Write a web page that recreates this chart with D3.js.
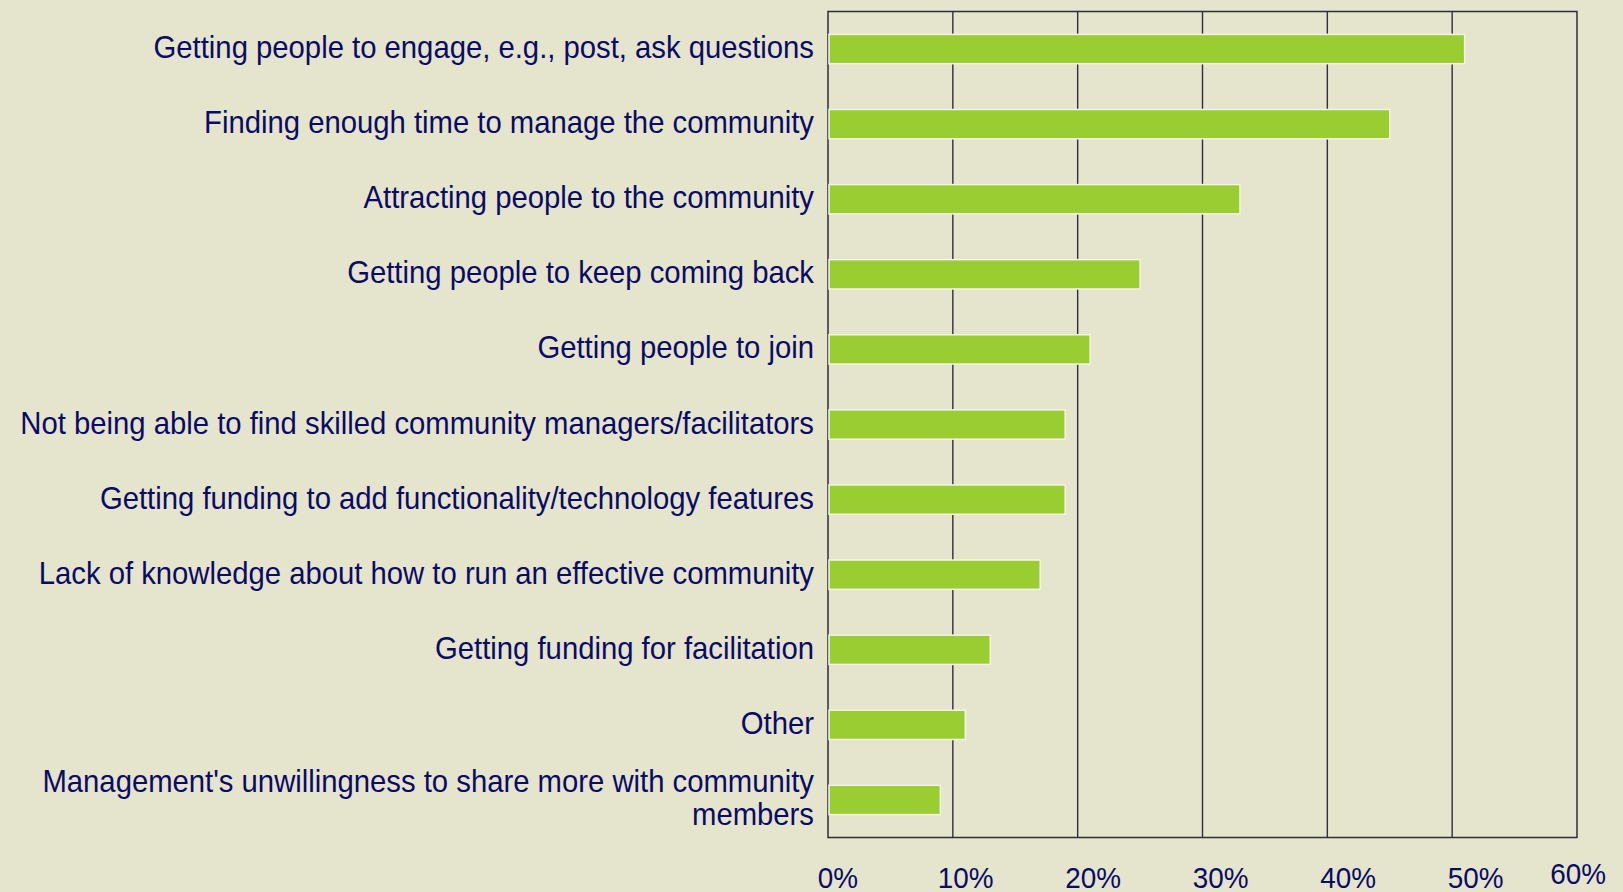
<!DOCTYPE html>
<html>
<head>
<meta charset="utf-8">
<script src="https://cdn.jsdelivr.net/npm/d3@7"></script>
<style>
  html, body { margin: 0; padding: 0; background: #e5e4cc; }
  svg { display: block; }
  text { font-family: "Liberation Sans", Arial, sans-serif; fill: #0b0b66; }
</style>
</head>
<body>
<svg id="chart" width="1623" height="892"></svg>
<script>
// Survey responses: biggest challenges in running an online community
const categories = [
  "Getting people to engage, e.g., post, ask questions",
  "Finding enough time to manage the community",
  "Attracting people to the community",
  "Getting people to keep coming back",
  "Getting people to join",
  "Not being able to find skilled community managers/facilitators",
  "Getting funding to add functionality/technology features",
  "Lack of knowledge about how to run an effective community",
  "Getting funding for facilitation",
  "Other",
  "Management's unwillingness to share more with community members"
];
const shares = [51, 45, 33, 25, 21, 19, 19, 17, 13, 11, 9];
const tickValues = [0, 10, 20, 30, 40, 50, 60];
const tickLabels = ["0%", "10%", "20%", "30%", "40%", "50%", "60%"];
// Long labels are broken onto two lines
const labelLines = {
  "Management's unwillingness to share more with community members":
    ["Management's unwillingness to share more with community", "members"]
};

const W = 1623, H = 892;
const plot = { left: 828, right: 1577, top: 11.5, bottom: 837.5 };
const svg = d3.select("#chart");

const x = d3.scaleLinear().domain([0, 60]).range([plot.left, plot.right]);
const y = d3.scaleBand().domain(categories)
  .range([plot.top, plot.bottom]).paddingInner(0.61).paddingOuter(0.305);

svg.append("rect").attr("width", W).attr("height", H).attr("fill", "#e5e4cc");

// vertical gridlines
svg.append("g").selectAll("line").data(tickValues.slice(1, -1)).join("line")
  .attr("x1", d => x(d)).attr("x2", d => x(d))
  .attr("y1", plot.top).attr("y2", plot.bottom)
  .attr("stroke", "#2e2e44").attr("stroke-width", 1.4);

// plot frame
svg.append("rect")
  .attr("x", plot.left).attr("y", plot.top)
  .attr("width", plot.right - plot.left).attr("height", plot.bottom - plot.top)
  .attr("fill", "none").attr("stroke", "#2e2e3a").attr("stroke-width", 1.5);

// bars
svg.append("g").selectAll("rect").data(categories).join("rect")
  .attr("x", x(0) + 1)
  .attr("y", d => y(d))
  .attr("width", (d, i) => x(shares[i]) - x(0) - 1)
  .attr("height", y.bandwidth())
  .attr("fill", "#9acd32")
  .attr("stroke", "#f4f4e6").attr("stroke-width", 1.5);

// category labels (slightly narrowed face)
const lineGap = 33;
const lab = svg.append("g").attr("font-size", 30.5).attr("text-anchor", "end");
categories.forEach(c => {
  const lines = labelLines[c] || [c];
  const cy = y(c) + y.bandwidth() / 2 + 9;
  const g = lab.append("g")
    .attr("transform", `translate(${plot.left - 14},${cy - (lines.length - 1) * lineGap / 2}) scale(0.96,1)`);
  const t = g.append("text");
  lines.forEach((ln, k) => {
    t.append("tspan").attr("x", 0).attr("y", k * lineGap).text(ln);
  });
});

// percentage tick labels along the bottom
const xLab = d3.scaleLinear().domain([0, 60])
  .range([plot.left + 10, plot.left + 10 + (plot.right - plot.left) * 1.0217]);
const tg = svg.append("g").attr("font-size", 30).attr("text-anchor", "middle");
const sx = 0.93;
tickValues.forEach((v, i) => {
  const g = tg.append("g");
  const t = g.append("text").text(tickLabels[i]);
  const w = t.node().getComputedTextLength() * sx;
  let cx = xLab(v);
  let base = H - 4;
  if (cx + w / 2 > W - 17) { cx = W - 17 - w / 2; base = H - 8; }
  g.attr("transform", `translate(${cx},${base}) scale(${sx},1)`);
});
</script>
</body>
</html>
